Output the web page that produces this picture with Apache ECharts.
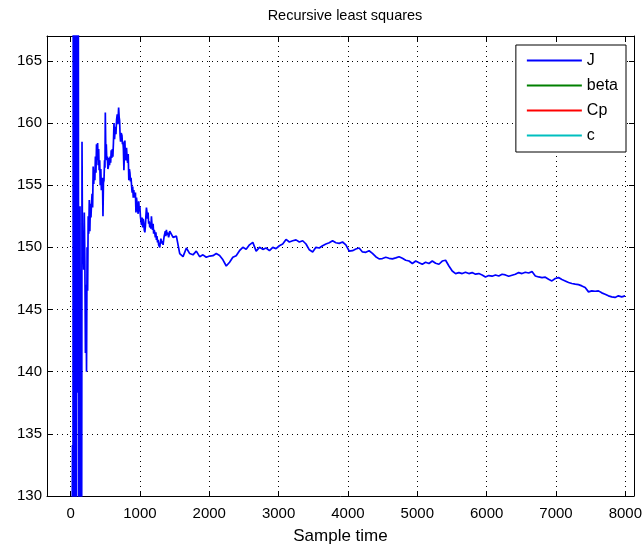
<!DOCTYPE html>
<html>
<head>
<meta charset="utf-8">
<script src="https://cdn.jsdelivr.net/npm/echarts@6/dist/echarts.min.js"></script>
<style>
  html, body { margin: 0; padding: 0; background: #fff; }
  #chart { width: 643px; height: 549px; }
</style>
</head>
<body>
<div id="chart"></div>
<script>
// Legend entries, in plotting order
const seriesNames = ['J', 'beta', 'Cp', 'c'];

// Tick positions
const xTicks = [0, 1000, 2000, 3000, 4000, 5000, 6000, 7000, 8000];
const yTicks = [130, 135, 140, 145, 150, 155, 160, 165];

// Recursive least squares estimate of J over the sample index
const sampleTime = [
  0, 28, 34, 40, 46, 52, 58, 64, 70, 76, 82, 88, 94, 100, 106, 112, 118, 124, 130, 136,
  142, 148, 154, 160, 165, 172, 180, 190, 198, 206, 214, 222, 230, 238, 246, 254, 262, 270, 278, 286,
  294, 302, 310, 318, 326, 334, 342, 350, 358, 366, 374, 382, 390, 398, 405, 412, 420, 428, 436, 444,
  453, 460, 467, 474, 482, 490, 496, 501, 508, 515, 522, 530, 538, 546, 554, 562, 570, 578, 586, 594,
  602, 610, 618, 626, 634, 645, 654, 664, 673, 682, 693, 700, 707, 714, 721, 730, 741, 748, 755, 762,
  769, 776, 783, 790, 800, 807, 815, 823, 831, 840, 848, 856, 864, 872, 879, 888, 896, 904, 912, 920,
  927, 935, 943, 951, 959, 967, 975, 983, 991, 999, 1007, 1015, 1023, 1031, 1039, 1047, 1055, 1063, 1071, 1079,
  1087, 1094, 1102, 1110, 1118, 1126, 1134, 1142, 1150, 1158, 1166, 1174, 1182, 1190, 1198, 1206, 1214, 1222, 1230, 1238,
  1246, 1254, 1262, 1270, 1278, 1286, 1294, 1302, 1310, 1318, 1326, 1334, 1342, 1350, 1358, 1366, 1374, 1382, 1390, 1398,
  1406, 1414, 1422,
  1430, 1478, 1526, 1574, 1622, 1670, 1718, 1765, 1813, 1861, 1909, 1957, 2005, 2053, 2101, 2149, 2197, 2245, 2269, 2293,
  2340, 2388, 2436, 2484, 2532, 2580, 2628, 2676, 2724, 2772, 2820, 2868, 2916, 2963, 3011, 3059, 3107, 3155, 3203, 3251,
  3299, 3347, 3395, 3443, 3491, 3538, 3586, 3634, 3682, 3730, 3778, 3826, 3874, 3922, 3970, 4018, 4066, 4114, 4161, 4209,
  4257, 4305, 4353, 4401, 4449, 4497, 4545, 4593, 4641, 4689, 4737,
  4785, 4833, 4881, 4929, 4977, 5025, 5072, 5120, 5168, 5216, 5264, 5312, 5360, 5408, 5456, 5504, 5552, 5600, 5648, 5695,
  5743, 5791, 5839, 5887, 5935, 5983, 6031, 6079, 6127, 6175, 6223, 6270, 6318, 6366, 6414, 6462, 6510, 6558, 6606, 6654,
  6702, 6750, 6798, 6846, 6893, 6941, 6989, 7037, 7085, 7133, 7181, 7229, 7277, 7325, 7373, 7421, 7469, 7516, 7564, 7612,
  7660, 7708, 7756, 7804, 7852, 7900, 7948, 7996
];
const jValue = [
  100, 134.1, 118, 190, 112, 195, 108, 188, 146.4, 182, 115, 176, 138.3, 172, 147.2, 168, 120, 146.6, 141.4, 153.3,
  125, 140.0, 148.2, 127, 158.5, 149.5, 151.1, 148.2, 152.8, 149.0, 141.5, 147.0, 140.0, 150.0, 146.5, 152.5, 151.1, 153.8, 151.3, 153.5,
  152.4, 153.5, 154.3, 153.2, 156.5, 155.1, 156.2, 155.4, 157.3, 156.0, 158.3, 157.0, 158.4, 156.6, 157.9, 156.2, 157.0, 155.0, 156.3, 154.6,
  154.9, 155.6, 152.5, 155.2, 155.4, 157.0, 156.4, 160.85, 157.6, 158.3, 157.0, 157.3, 156.3, 156.5, 157.2, 156.6, 157.3, 156.8, 157.8, 157.2,
  157.9, 157.3, 158.4, 160.0, 158.7, 159.7, 159.1, 160.3, 160.7, 159.9, 161.25, 160.5, 160.2, 159.0, 158.5, 159.2, 159.0, 158.3, 158.5, 157.9,
  156.2, 157.6, 158.6, 157.4, 157.0, 158.0, 157.2, 156.8, 157.5, 155.4, 156.3, 156.0, 155.3, 155.6, 155.0, 154.4, 154.9, 154.0, 154.6, 154.0,
  153.9, 154.4, 152.8, 154.0, 153.5, 153.0, 152.7, 153.7, 152.9, 153.3, 152.5, 152.1, 151.8, 152.4, 151.6, 152.3, 152.0, 151.4, 151.2, 151.7,
  152.6, 153.2, 152.8, 152.3, 152.8, 151.9, 152.1, 151.6, 152.0, 151.5, 152.5, 151.8, 151.4, 151.9, 151.1, 151.4, 151.2, 150.8, 151.2, 150.6,
  150.9, 150.4, 150.6, 150.2, 150.3, 150.0, 150.4, 150.7, 150.6, 150.3, 150.5, 150.2, 150.6, 150.9, 151.1, 151.3, 150.9, 151.4, 151.0, 151.2,
  151.1, 150.8, 151.0,
  151.3, 150.8, 150.9, 149.5, 149.25, 149.95, 149.5, 149.4, 149.7, 149.25, 149.4, 149.2, 149.3, 149.33, 149.5, 149.35, 149.0, 148.5, 148.35, 148.8,
  149.2, 149.33, 149.73, 150.0, 149.84, 150.2, 150.4, 149.7, 150.0, 149.84, 149.95, 149.73, 150.0, 149.9, 150.13, 150.27, 150.64, 150.43, 150.53, 150.6,
  150.43, 150.53, 150.27, 149.8, 149.63, 150.0, 149.95, 150.13, 150.27, 150.37, 150.53, 150.37, 150.32, 150.43, 150.2, 149.7, 149.73, 149.87, 149.95, 149.63,
  149.6, 149.73, 149.52, 149.25, 149.07, 149.1, 149.2, 149.12, 149.07, 149.15, 149.25,
  149.12, 148.96, 148.9, 148.7, 148.9, 148.77, 148.64, 148.8, 148.7, 148.9, 148.72, 148.64, 148.9, 148.96, 148.5, 148.1, 147.89, 147.97, 147.89, 148.0,
  147.89, 147.97, 147.84, 147.89, 147.78, 147.62, 147.73, 147.68, 147.78, 147.7, 147.84, 147.78, 147.68, 147.76, 147.84, 147.97, 147.89, 148.0, 147.94, 148.05,
  147.7, 147.62, 147.57, 147.6, 147.44, 147.3, 147.49, 147.57, 147.41, 147.3, 147.17, 147.09, 147.04, 147.0, 146.9, 146.77, 146.42, 146.5, 146.47, 146.5,
  146.34, 146.23, 146.1, 146.02, 145.97, 146.1, 146.02, 146.1
];
// The other estimates stay outside the displayed value range
const betaValue = [];
const cpValue = [];
const cValue = [];

const FONT = "'Liberation Sans', Arial, Helvetica, sans-serif";
const seriesColors = ['#0000ff', '#008000', '#ff0000', '#00bfbf'];
const X_MIN = -340, X_MAX = 8125;
const Y_MIN = 130, Y_MAX = 167;

function pairs(xs, ys) {
  return ys.map((v, i) => [xs[i], v]);
}

const chart = echarts.init(document.getElementById('chart'), null, { renderer: 'canvas' });

const axisLineStyle = { show: true, onZero: false, lineStyle: { color: '#000', width: 1 } };
const gridDots = { show: true, lineStyle: { color: '#000', width: 1, type: [1, 4] } };
const plainNumber = (v) => String(v);

function lineSeries(name, values, color) {
  return {
    name: name,
    type: 'line',
    xAxisIndex: 0,
    yAxisIndex: 0,
    data: pairs(sampleTime, values),
    symbol: 'none',
    showSymbol: false,
    clip: true,
    itemStyle: { color: color },
    lineStyle: { color: color, width: 1.7 },
    emphasis: { disabled: true }
  };
}

chart.setOption({
  animation: false,
  backgroundColor: '#fff',
  textStyle: { fontFamily: FONT },
  title: {
    text: 'Recursive least squares',
    left: 340,
    top: 3,
    textAlign: 'center',
    textStyle: { fontSize: 14.5, fontWeight: 'normal', color: '#000', fontFamily: FONT }
  },
  grid: { left: 47, right: 9, top: 36, bottom: 53, containLabel: false, outerBoundsMode: 'none' },
  legend: {
    data: seriesNames,
    orient: 'vertical',
    right: 17,
    top: 45,
    icon: 'rect',
    itemWidth: 55,
    itemHeight: 2,
    itemGap: 8,
    padding: [7, 8, 8, 11],
    backgroundColor: '#fff',
    borderColor: '#000',
    borderWidth: 1,
    borderRadius: 0,
    selectedMode: false,
    textStyle: { fontSize: 16, color: '#000', lineHeight: 17, fontFamily: FONT }
  },
  xAxis: [
    {
      type: 'value', min: X_MIN, max: X_MAX, position: 'bottom',
      axisLine: axisLineStyle,
      axisTick: { show: true, inside: true, length: 5, customValues: xTicks, lineStyle: { color: '#000' } },
      axisLabel: { show: true, customValues: xTicks, formatter: plainNumber, color: '#000', fontSize: 15, margin: 10, fontFamily: FONT },
      splitLine: gridDots,
      name: 'Sample time', nameLocation: 'middle', nameGap: 32,
      nameTextStyle: { fontSize: 17, color: '#000', fontFamily: FONT }
    },
    {
      type: 'value', min: X_MIN, max: X_MAX, position: 'top',
      axisLine: axisLineStyle,
      axisTick: { show: true, inside: true, length: 5, customValues: xTicks, lineStyle: { color: '#000' } },
      axisLabel: { show: false },
      splitLine: { show: false }
    }
  ],
  yAxis: [
    {
      type: 'value', min: Y_MIN, max: Y_MAX, position: 'left',
      axisLine: axisLineStyle,
      axisTick: { show: true, inside: true, length: 5, customValues: yTicks, lineStyle: { color: '#000' } },
      axisLabel: { show: true, customValues: yTicks, formatter: plainNumber, color: '#000', fontSize: 15, margin: 5, fontFamily: FONT },
      splitLine: gridDots
    },
    {
      type: 'value', min: Y_MIN, max: Y_MAX, position: 'right',
      axisLine: axisLineStyle,
      axisTick: { show: true, inside: true, length: 5, customValues: yTicks, lineStyle: { color: '#000' } },
      axisLabel: { show: false },
      splitLine: { show: false }
    }
  ],
  series: [
    lineSeries(seriesNames[0], jValue, seriesColors[0]),
    lineSeries(seriesNames[1], betaValue, seriesColors[1]),
    lineSeries(seriesNames[2], cpValue, seriesColors[2]),
    lineSeries(seriesNames[3], cValue, seriesColors[3])
  ]
});
</script>
</body>
</html>
